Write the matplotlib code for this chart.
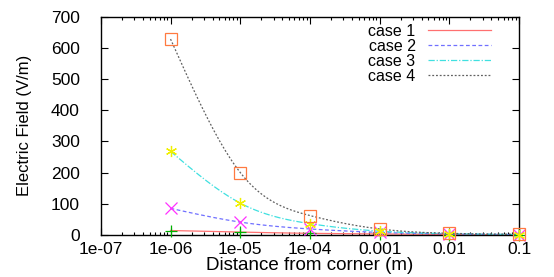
import numpy as np
import matplotlib.pyplot as plt
from matplotlib.ticker import LogLocator, FixedLocator

# data
distance = [1e-6, 1e-5, 1e-4, 1e-3, 1e-2, 1e-1]
case1 = [14, 9, 5, 3, 1, 0.5]
case2 = [85, 41, 19, 8, 3, 1]
case3 = [268, 102, 36, 12, 4, 1]
case4 = [628, 200, 62, 19, 5, 2]
labels = ['case 1', 'case 2', 'case 3', 'case 4']
xtick_vals = [1e-7] + distance
xtick_labels = ['1e-07', '1e-06', '1e-05', '1e-04', '0.001', '0.01', '0.1']

line_colors = ['#ff7070', '#7070ff', '#40e0e0', '#606060']
line_styles = ['-', (0, (3, 2)), (0, (5, 1.5, 1, 1.5)), (0, (1.5, 1.5))]
point_colors = ['#00b000', '#ff30ff', '#f0f000', '#ff7a40']
point_marks = ['+', 'x', (6, 2, 0), 's']


# natural cubic spline through the points (like gnuplot "smooth csplines")
def csplines(x, y, n=200):
    x = np.asarray(x, float)
    y = np.asarray(y, float)
    k = len(x)
    h = np.diff(x)
    A = np.zeros((k, k))
    r = np.zeros(k)
    A[0, 0] = A[-1, -1] = 1
    for i in range(1, k - 1):
        A[i, i - 1] = h[i - 1]
        A[i, i] = 2 * (h[i - 1] + h[i])
        A[i, i + 1] = h[i]
        r[i] = 3 * ((y[i + 1] - y[i]) / h[i] - (y[i] - y[i - 1]) / h[i - 1])
    c = np.linalg.solve(A, r)
    xs = np.linspace(x[0], x[-1], n)
    idx = np.clip(np.searchsorted(x, xs) - 1, 0, k - 2)
    dx = xs - x[idx]
    b = (y[1:] - y[:-1]) / h - h * (2 * c[:-1] + c[1:]) / 3
    d = (c[1:] - c[:-1]) / (3 * h)
    ys = y[idx] + b[idx] * dx + c[idx] * dx ** 2 + d[idx] * dx ** 3
    return xs, ys


plt.rcParams['font.family'] = ['Liberation Sans', 'DejaVu Sans']
fig = plt.figure(figsize=(5.54, 2.77), dpi=100)
ax = fig.add_axes([0.182, 0.152, 0.755, 0.788])

lx = np.log10(distance)
for i, ys in enumerate([case1, case2, case3, case4]):
    sx, sy = csplines(lx, ys)
    ax.plot(10 ** sx, sy, color=line_colors[i], linestyle=line_styles[i],
            linewidth=0.9, label=labels[i])
for i, ys in enumerate([case1, case2, case3, case4]):
    ax.plot(distance, ys, linestyle='none', marker=point_marks[i],
            markersize=8, markerfacecolor='none',
            markeredgecolor=point_colors[i], markeredgewidth=0.9,
            clip_on=False, zorder=3)

ax.set_xscale('log')
ax.set_xlim(1e-7, 1e-1)
ax.set_ylim(0, 700)
ax.xaxis.set_major_locator(FixedLocator(xtick_vals))
ax.xaxis.set_minor_locator(LogLocator(base=10, subs=np.arange(2, 10)))
ax.set_xticklabels(xtick_labels)
ax.set_yticks(range(0, 701, 100))
ax.tick_params(which='both', direction='in', top=True, right=True,
               labelsize=12.5, width=0.8)
ax.tick_params(which='major', length=5)
ax.tick_params(which='minor', length=2.5)
ax.tick_params(axis='x', pad=5)
ax.tick_params(axis='y', pad=15)
for s in ax.spines.values():
    s.set_linewidth(1.0)

ax.set_xlabel('Distance from corner (m)', fontsize=13.5, labelpad=0)
ax.set_ylabel('Electric Field (V/m)', fontsize=12, labelpad=14)

ax.legend(loc='upper right', bbox_to_anchor=(0.955, 1.01), frameon=False,
          fontsize=11.5, markerfirst=False, handlelength=3.9,
          labelspacing=0.0, borderpad=0.1, handletextpad=0.8)

fig.savefig('out.png', dpi=100)
